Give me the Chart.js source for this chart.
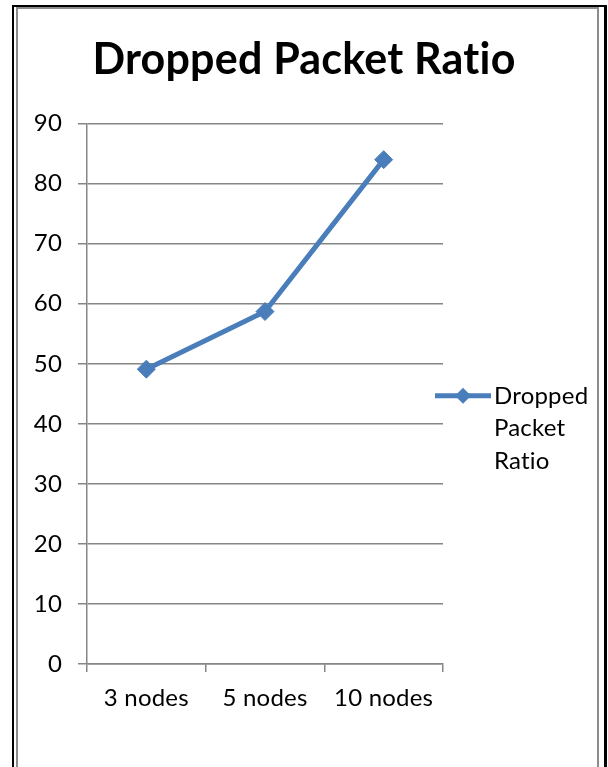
<!DOCTYPE html>
<html>
<head>
<meta charset="utf-8">
<script src="https://cdn.jsdelivr.net/npm/chart.js@4/dist/chart.umd.min.js"></script>
<style>
  html, body { margin: 0; padding: 0; background: #fff; }
  #wrap { position: relative; width: 608px; height: 767px; overflow: hidden; }
  .frame-outer { position: absolute; left: 12px; top: 5px; width: 590px; height: 800px;
                 border-left: 2px solid #000; border-top: 2px solid #000; border-right: 3px solid #000; }
  .frame-inner { position: absolute; left: 16px; top: 7px; width: 579px; height: 800px;
                 border-left: 2px solid #8c8c8c; border-top: 2px solid #8c8c8c; border-right: 2px solid #8c8c8c; }
  canvas { position: absolute; left: 0; top: 0; }
</style>
</head>
<body>
<div id="wrap">
  <div class="frame-outer"></div>
  <div class="frame-inner"></div>
  <canvas id="c" width="608" height="767"></canvas>
</div>
<script>
// Dropped packet ratio per network size
const categories = ['3 nodes', '5 nodes', '10 nodes'];
const seriesName = 'Dropped Packet Ratio';
const droppedRatio = [49.1, 58.7, 84.0];
const yTicks = [0, 10, 20, 30, 40, 50, 60, 70, 80, 90];

const FONT = 'Lato, "Open Sans", sans-serif';
const LINE_BLUE = '#4A7EBB';
const GRID = '#868686';

// Tiny letter spacing keeps the font from merging "ti" into a ligature
const noLigatures = {
  id: 'noLigatures',
  beforeDraw(chart) { chart.ctx.letterSpacing = '0.2px'; }
};

// Legend on the right: line sample with a diamond, label wrapped over lines
const sideLegend = {
  id: 'sideLegend',
  afterDraw(chart) {
    const ds = chart.data.datasets[0];
    const ctx = chart.ctx;
    const area = chart.chartArea;
    const x0 = area.right - 8;
    const x1 = x0 + 56;
    const y0 = (area.top + area.bottom) / 2 + 2;
    const cx = (x0 + x1) / 2;
    const r = 8;
    ctx.save();
    ctx.strokeStyle = ds.borderColor;
    ctx.lineWidth = ds.borderWidth;
    ctx.beginPath();
    ctx.moveTo(x0, y0);
    ctx.lineTo(x1, y0);
    ctx.stroke();
    ctx.fillStyle = ds.borderColor;
    ctx.beginPath();
    ctx.moveTo(cx, y0 - r); ctx.lineTo(cx + r, y0); ctx.lineTo(cx, y0 + r); ctx.lineTo(cx - r, y0);
    ctx.closePath();
    ctx.fill();
    ctx.fillStyle = '#000';
    ctx.font = '24px ' + FONT;
    ctx.textBaseline = 'middle';
    ctx.textAlign = 'left';
    ds.label.split(' ').forEach((w, i) => ctx.fillText(w, x1 + 3, y0 + i * 32.5));
    ctx.restore();
  }
};

new Chart(document.getElementById('c'), {
  type: 'line',
  data: {
    labels: categories,
    datasets: [{
      label: seriesName,
      data: droppedRatio,
      borderColor: LINE_BLUE,
      backgroundColor: LINE_BLUE,
      borderWidth: 5,
      pointStyle: 'rectRot',
      pointRadius: 9,
      pointHoverRadius: 9,
      pointBorderWidth: 1,
      pointBackgroundColor: LINE_BLUE,
      pointBorderColor: LINE_BLUE,
      tension: 0
    }]
  },
  options: {
    responsive: false,
    animation: false,
    layout: { padding: 0 },
    plugins: {
      legend: { display: false },
      tooltip: { enabled: false },
      title: {
        display: true,
        text: seriesName,
        color: '#000',
        font: { family: FONT, size: 43, weight: 'bold', lineHeight: 1.2 },
        padding: { top: 34, bottom: 38 }
      }
    },
    scales: {
      x: {
        type: 'category',
        offset: true,
        grid: { display: true, drawOnChartArea: false, drawTicks: true, tickLength: 8, offset: true, color: GRID, lineWidth: 1.5 },
        border: { display: true, color: GRID, width: 1.5 },
        ticks: { color: '#000', font: { family: FONT, size: 24 }, padding: 12, maxRotation: 0 },
        afterFit(s) { s.height = 103; }
      },
      y: {
        min: 0,
        max: 90,
        afterBuildTicks(s) { s.ticks = yTicks.map(v => ({ value: v })); },
        grid: { color: GRID, lineWidth: 1.5, tickLength: 9, drawTicks: true },
        border: { display: true, color: GRID, width: 1.5 },
        ticks: { color: '#000', font: { family: FONT, size: 24 }, padding: 16 },
        afterFit(s) { s.width = 87; }
      },
      legendSpace: {
        type: 'linear',
        position: 'right',
        display: true,
        grid: { display: false, drawTicks: false },
        border: { display: false },
        ticks: { display: false },
        afterFit(s) { s.width = 165; }
      }
    }
  },
  plugins: [noLigatures, sideLegend]
});
</script>
</body>
</html>
